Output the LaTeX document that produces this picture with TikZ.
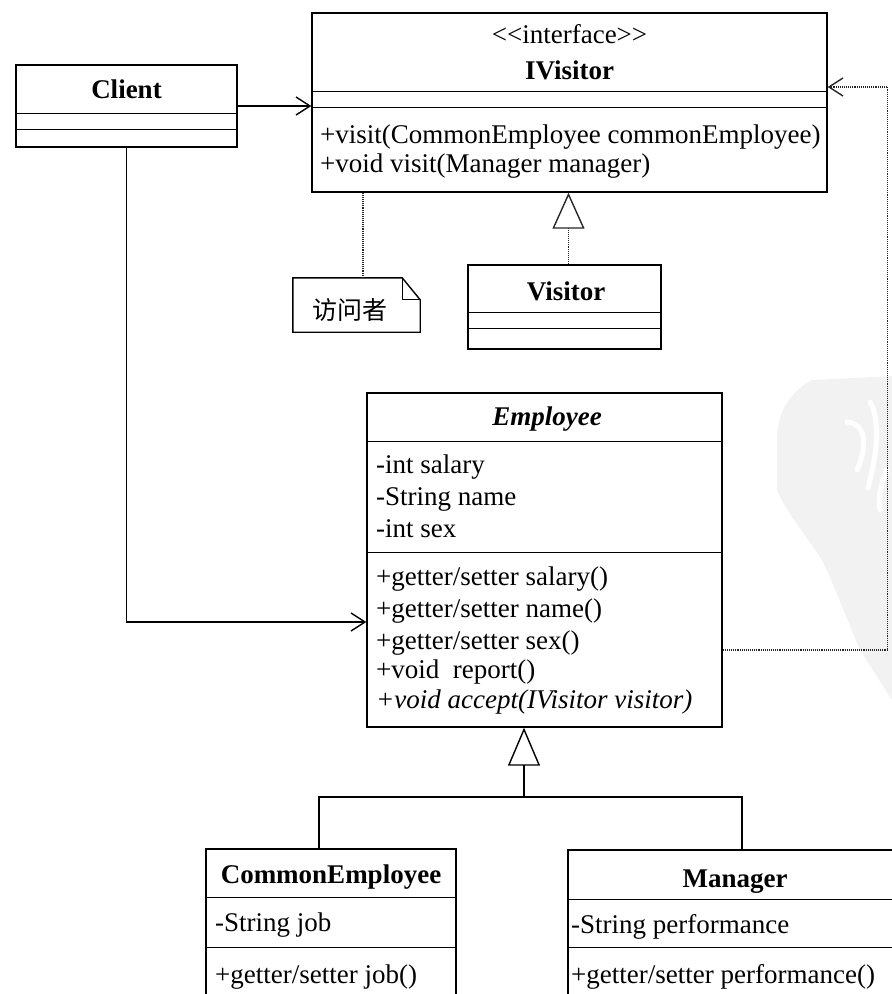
\documentclass[tikz,border=0pt]{standalone}
\usepackage{fontspec}
\setmainfont{Liberation Serif}
\newfontfamily\cjkfont{Noto Sans CJK SC}
\usetikzlibrary{arrows.meta}
\tikzset{
  box/.style={draw=black, line width=1.4pt, inner sep=0pt, rectangle},
  txt/.style={inner sep=0pt, font=\fontsize{27}{30}\selectfont, anchor=base west},
  ttl/.style={inner sep=0pt, font=\fontsize{27}{30}\selectfont\bfseries, anchor=base},
  solidline/.style={line width=1.4pt},
  dotline/.style={line width=1.1pt, densely dotted, black!85},
  assoc/.style={solidline, -{Straight Barb[length=14pt, width=18pt, line width=1.4pt]}},
  dep/.style={dotline, -{Straight Barb[length=14pt, width=18pt, line width=1.4pt]}},
  realize/.style={dotline, -{Triangle[open, length=36pt, width=32pt, line width=1.4pt]}},
  inherit/.style={solidline, -{Triangle[open, length=38pt, width=32pt, line width=1.4pt]}}
}
\begin{document}
\begin{tikzpicture}[x=1pt, y=-1pt]
\useasboundingbox (0,0) rectangle (892,994);
% faint watermark
\fill[gray!10] (812,380) .. controls (790,392) and (777,412) .. (777,440) -- (777,490)
  .. controls (790,520) and (815,545) .. (827,570) -- (860,650) -- (895,705) -- (895,376) -- cycle;
\draw[white, line width=5pt, line cap=round] (847,422) .. controls (866,424) and (868,445) .. (857,470);
\draw[white, line width=5pt, line cap=round] (870,402) .. controls (880,420) and (878,450) .. (868,488);
\draw[white, line width=5pt, line cap=round] (887,470) .. controls (880,485) and (878,500) .. (880,510);

% Client
\node[box, minimum width=221pt, minimum height=82pt] (client) at (126.5,106) {};
\draw[solidline] ([yshift=-49pt]client.north west) -- ([yshift=-49pt]client.north east);
\draw[solidline] ([yshift=-65pt]client.north west) -- ([yshift=-65pt]client.north east);
\node[ttl] (clientT) at (126.5,98) {Client};

% IVisitor
\node[box, minimum width=515pt, minimum height=179pt] (ivis) at (569.5,102.5) {};
\draw[solidline] ([yshift=-79pt]ivis.north west) -- ([yshift=-79pt]ivis.north east);
\draw[solidline] ([yshift=-95pt]ivis.north west) -- ([yshift=-95pt]ivis.north east);
\node[ttl, font=\fontsize{27}{30}\selectfont] (ivisS) at (569.5,43) {<\kern0pt<interface>\kern0pt>};
\node[ttl] (ivisT) at (569.5,79) {IVisitor};
\node[txt] (ivisM1) at (320,143) {+visit(CommonEmployee commonEmployee)};
\node[txt] (ivisM2) at (320,172) {+void visit(Manager manager)};

% Note
\node[minimum width=127pt, minimum height=54pt, inner sep=0pt] (note) at (356.5,305) {};
\draw[solidline] (note.north west) -- ([xshift=-18pt]note.north east) -- ([yshift=-22pt]note.north east)
  -- (note.south east) -- (note.south west) -- cycle;
\draw[line width=1.1pt] ([xshift=-18pt]note.north east) -- ([xshift=-18pt,yshift=-22pt]note.north east) -- ([yshift=-22pt]note.north east);
\node[inner sep=0pt, font=\cjkfont\fontsize{25}{28}\selectfont] (noteT) at (350,310) {访问者};

% Visitor
\node[box, minimum width=193pt, minimum height=84pt] (visitor) at (564.5,307) {};
\draw[solidline] ([yshift=-48pt]visitor.north west) -- ([yshift=-48pt]visitor.north east);
\draw[solidline] ([yshift=-64pt]visitor.north west) -- ([yshift=-64pt]visitor.north east);
\node[ttl] (visitorT) at (566,300) {Visitor};

% Employee
\node[box, minimum width=355pt, minimum height=334pt] (emp) at (544.5,560) {};
\draw[solidline] ([yshift=-49pt]emp.north west) -- ([yshift=-49pt]emp.north east);
\draw[solidline] ([yshift=-160pt]emp.north west) -- ([yshift=-160pt]emp.north east);
\node[ttl, font=\fontsize{27}{30}\selectfont\bfseries\itshape] (empT) at (547,425) {Employee};
\node[txt] (empA1) at (376,473) {-int salary};
\node[txt] (empA2) at (376,505) {-String name};
\node[txt] (empA3) at (376,537) {-int sex};
\node[txt] (empM1) at (376,585) {+getter/setter salary()};
\node[txt] (empM2) at (376,617) {+getter/setter name()};
\node[txt] (empM3) at (376,649) {+getter/setter sex()};
\node[txt] (empM4) at (376,678) {+void~~report()};
\node[txt, font=\fontsize{27}{30}\selectfont\itshape] (empM5) at (376,708) {+void accept(IVisitor visitor)};

% CommonEmployee
\node[box, minimum width=250pt, minimum height=161pt] (common) at (331,929.5) {};
\draw[solidline] ([yshift=-49pt]common.north west) -- ([yshift=-49pt]common.north east);
\draw[solidline] ([yshift=-99pt]common.north west) -- ([yshift=-99pt]common.north east);
\node[ttl] (commonT) at (331,883) {CommonEmployee};
\node[txt] (commonA) at (215,931) {-String job};
\node[txt] (commonM) at (215,983) {+getter/setter job()};

% Manager
\node[box, minimum width=334pt, minimum height=160pt] (manager) at (735,930) {};
\draw[solidline] ([yshift=-50pt]manager.north west) -- ([yshift=-50pt]manager.north east);
\draw[solidline] ([yshift=-98pt]manager.north west) -- ([yshift=-98pt]manager.north east);
\node[ttl] (managerT) at (735,887) {Manager};
\node[txt] (managerA) at (571,933) {-String performance};
\node[txt] (managerM) at (571,983) {+getter/setter performance()};

% Connectors
\draw[assoc] (client.east) -- (ivis.west |- client.east);
\draw[assoc] (client.south) |- ([yshift=-62pt]emp.west);
\draw[dotline] ([xshift=6.5pt]note.north) -- ([xshift=6.5pt]note.north |- ivis.south);
\draw[realize] ([xshift=4pt]visitor.north) -- ([xshift=4pt]visitor.north |- ivis.south);
\draw[dep] ([yshift=-90pt]emp.east) -- ++(165,0) |- ([yshift=15.5pt]ivis.east);
\coordinate (junction) at (524,797);
\draw[solidline] ([xshift=-12pt]common.north) |- (junction);
\draw[solidline] ([xshift=7pt]manager.north) |- (junction);
\draw[inherit] (junction) -- (junction |- emp.south);
\end{tikzpicture}
\end{document}
